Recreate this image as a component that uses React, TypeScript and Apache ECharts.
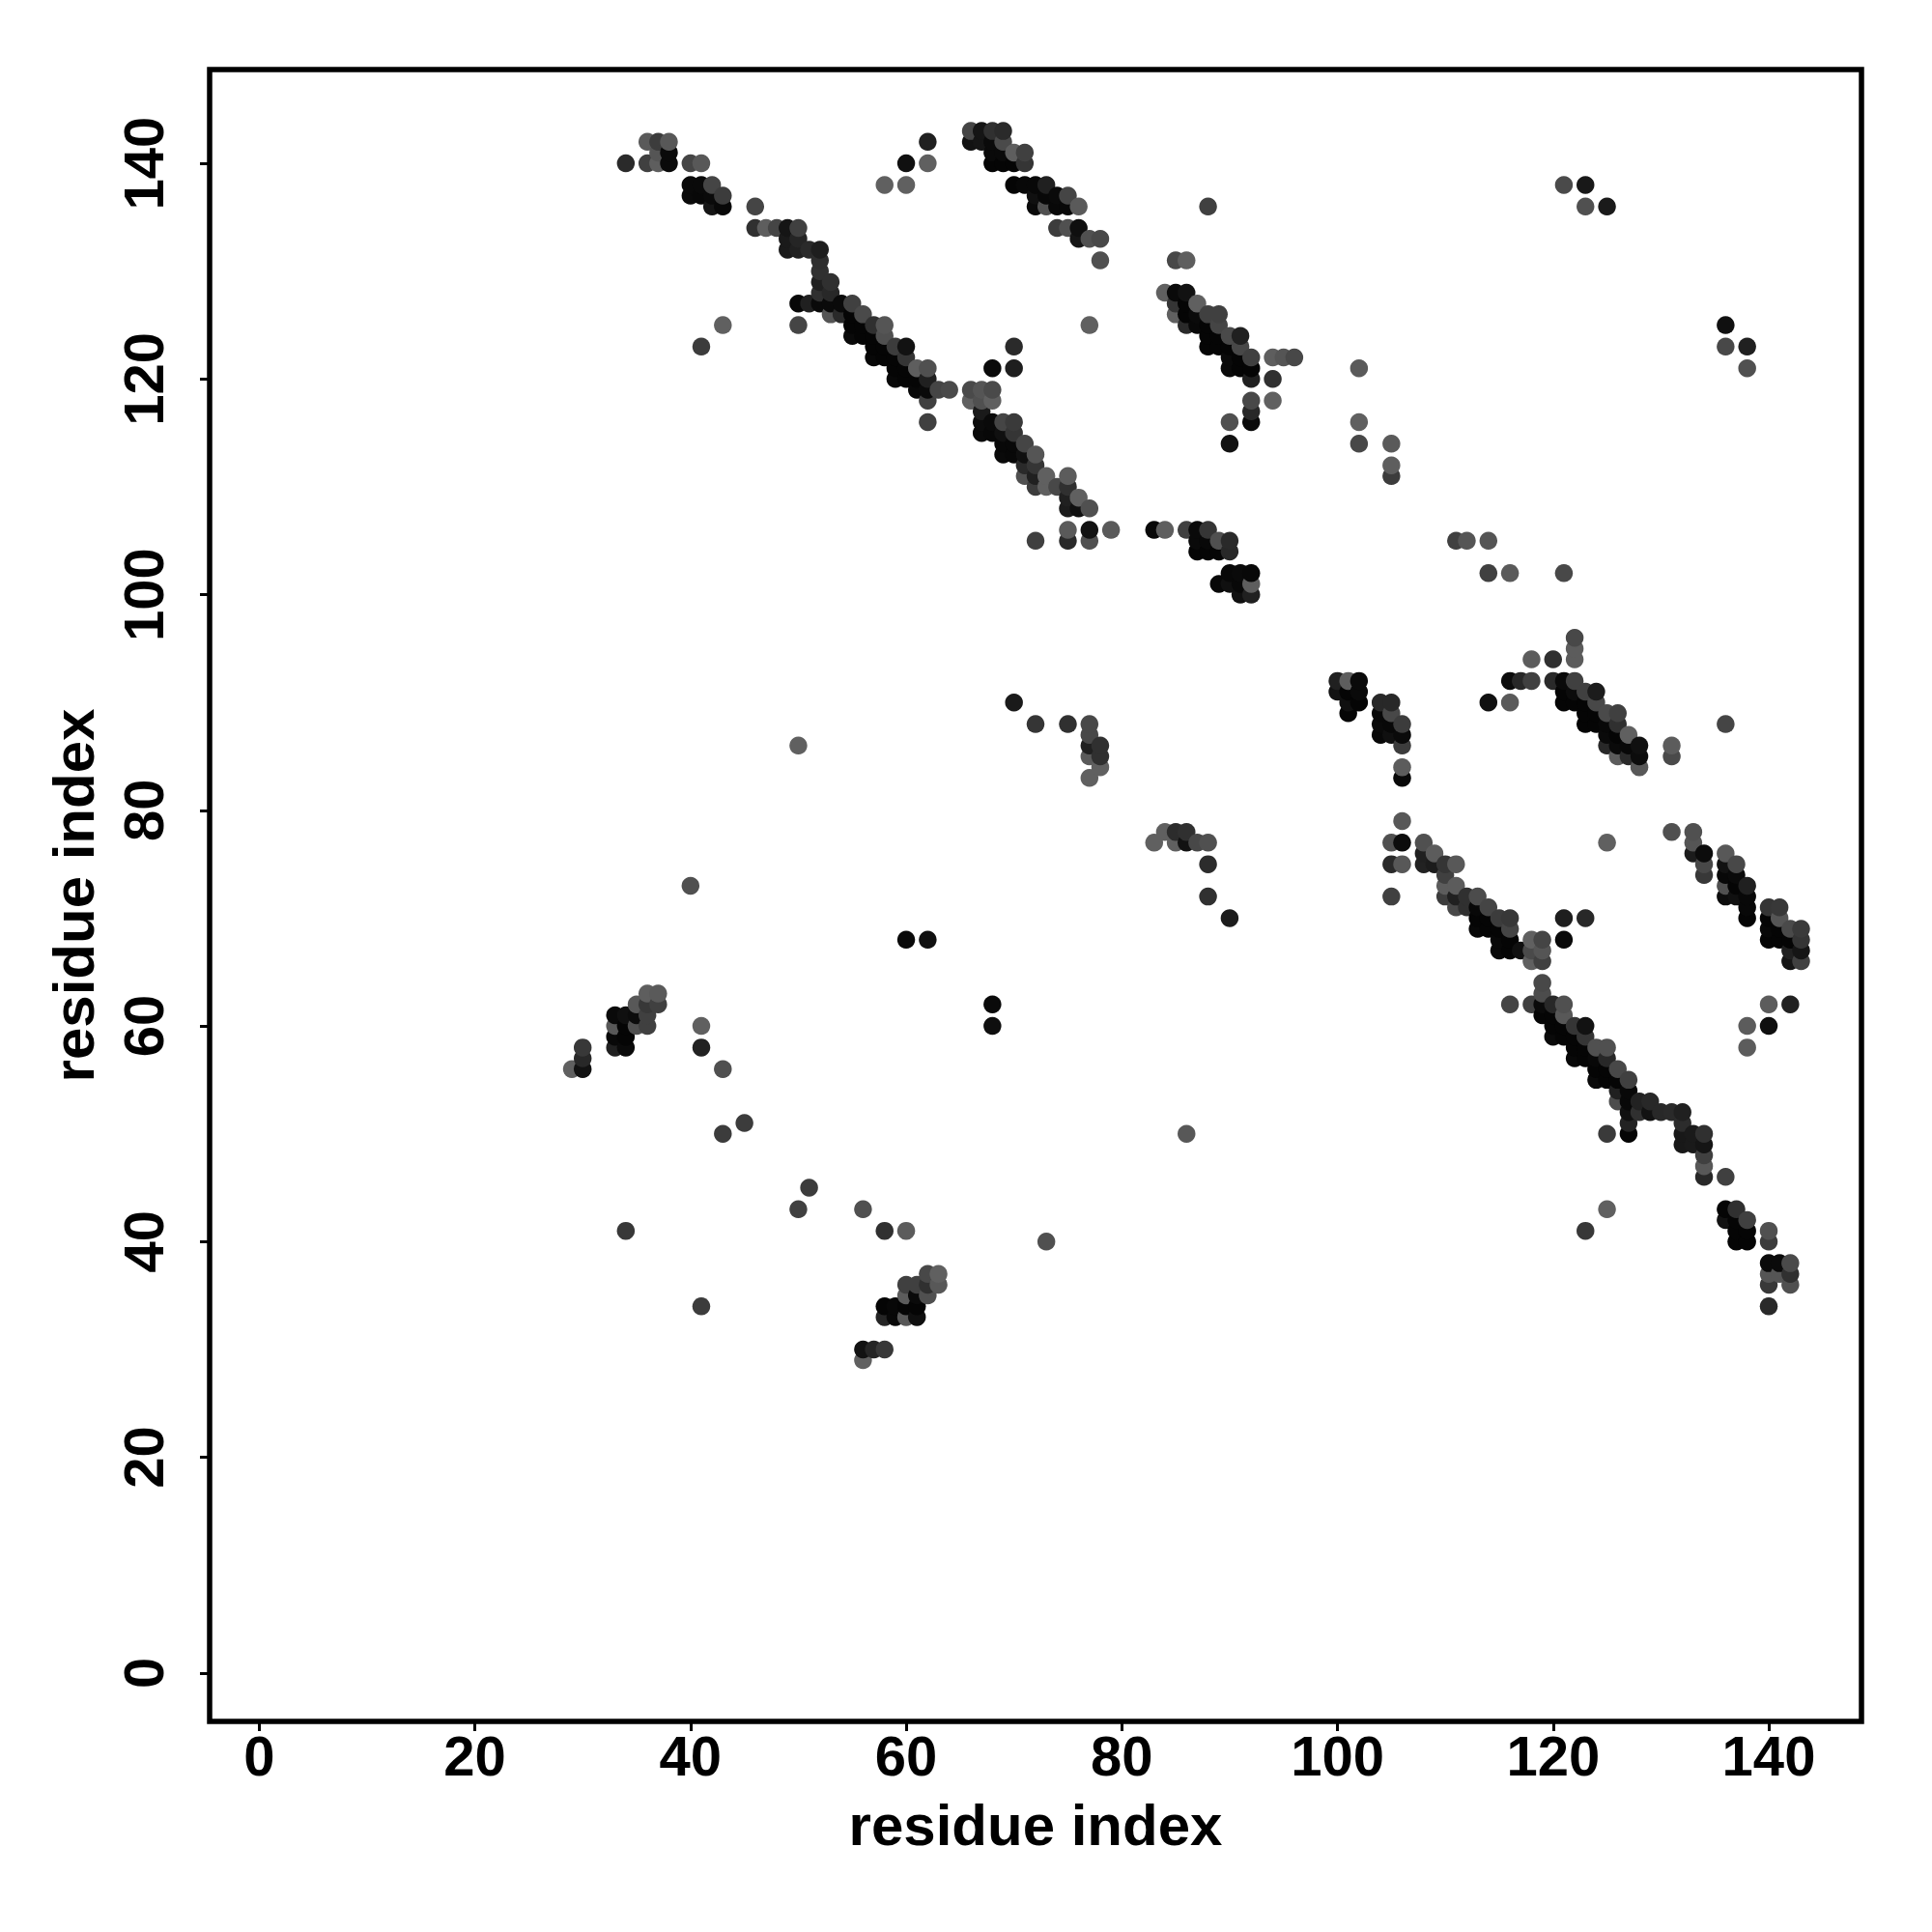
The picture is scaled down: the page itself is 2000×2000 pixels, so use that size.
import React, { useEffect, useRef } from "react";
import * as echarts from "echarts";

type C = [number, number, number];

const tickValues = [0, 20, 40, 60, 80, 100, 120, 140];
const axisTitle = "residue index";

const helixTopLeft: C[] = [
  [36,142,0x5a],[37,142,0x3c],[38,142,0x58],[37,141,0x55],[38,141,0x0a],[34,140,0x2a],[36,140,0x40],[37,140,0x5e],[38,140,0x0a],[40,140,0x45],[41,140,0x58],
  [40,138,0x0a],[41,138,0x0a],[42,138,0x45],[40,137,0x0a],[41,137,0x08],[42,137,0x0a],[43,137,0x3c],[42,136,0x15],[43,136,0x08],[46,136,0x45],
];
const strandMain1: C[] = [
  [46,134,0x30],[47,134,0x5e],[48,134,0x45],[49,134,0x15],[50,134,0x40],[49,133,0x1a],[50,133,0x25],[49,132,0x1a],[50,132,0x20],[51,132,0x2a],[52,132,0x1e],
  [52,131,0x2e],[52,130,0x30],[52,129,0x20],[53,129,0x30],[52,128,0x30],[53,128,0x28],
  [50,127,0x08],[51,127,0x20],[52,127,0x0a],[53,127,0x0a],[54,127,0x0a],[55,127,0x40],[53,126,0x55],[54,126,0x2a],[55,126,0x05],[56,126,0x4a],
  [43,125,0x60],[50,125,0x45],[55,125,0x05],[56,125,0x05],[57,125,0x30],[58,125,0x55],[55,124,0x0a],[56,124,0x05],[57,124,0x05],[58,124,0x50],
  [41,123,0x3c],[57,123,0x05],[58,123,0x05],[59,123,0x3c],[60,123,0x12],[70,123,0x2a],[57,122,0x08],[58,122,0x05],[59,122,0x05],[60,122,0x35],
  [59,121,0x05],[60,121,0x05],[61,121,0x5e],[62,121,0x50],[68,121,0x0a],[70,121,0x1e],[59,120,0x08],[60,120,0x05],[61,120,0x05],[62,120,0x20],
  [61,119,0x08],[62,119,0x0a],[63,119,0x45],[64,119,0x4a],[62,118,0x40],[62,116,0x40],
];
const strandUpper: C[] = [
  [66,143,0x45],[67,143,0x15],[68,143,0x30],[69,143,0x2a],[66,142,0x12],[67,142,0x15],[68,142,0x0a],[69,142,0x4a],[68,141,0x0a],[69,141,0x0a],[70,141,0x5e],[71,141,0x40],
  [68,140,0x05],[69,140,0x05],[70,140,0x05],[71,140,0x35],[70,138,0x05],[71,138,0x08],[72,138,0x08],[73,138,0x20],[72,137,0x10],[73,137,0x08],[74,137,0x0a],[75,137,0x45],
  [72,136,0x0a],[73,136,0x50],[74,136,0x08],[75,136,0x08],[76,136,0x5a],[74,134,0x3c],[75,134,0x50],[76,134,0x0f],[76,133,0x15],[77,133,0x50],[78,133,0x48],[78,131,0x50],
];
const pairsUpperIsolated: C[] = [
  [58,138,0x60],[60,138,0x60],[60,140,0x10],[62,140,0x60],[62,142,0x20],[88,136,0x40],[77,125,0x60],
  [121,138,0x4a],[123,138,0x18],[123,136,0x50],[125,136,0x1a],[136,125,0x10],[136,123,0x48],[138,123,0x20],[138,121,0x50],
  [102,121,0x5a],[102,116,0x60],[102,114,0x48],[105,114,0x5a],[105,112,0x5e],[105,111,0x3c],
  [111,105,0x40],[112,105,0x55],[114,105,0x55],[114,102,0x40],[116,102,0x5a],[121,102,0x48],
];
const strandMid: C[] = [
  [85,131,0x48],[86,131,0x5e],[84,128,0x60],[85,128,0x0a],[86,128,0x12],[85,127,0x35],[86,127,0x05],[87,127,0x60],[85,126,0x60],[86,126,0x05],[87,126,0x0a],[88,126,0x40],[89,126,0x40],
  [86,125,0x2a],[87,125,0x08],[88,125,0x05],[89,125,0x45],[88,124,0x05],[89,124,0x05],[90,124,0x4a],[91,124,0x20],[88,123,0x05],[89,123,0x05],[90,123,0x05],[91,123,0x48],
  [90,122,0x0a],[91,122,0x05],[92,122,0x40],[94,122,0x5e],[95,122,0x55],[96,122,0x48],[90,121,0x0a],[91,121,0x05],[92,121,0x05],[92,120,0x20],[94,120,0x30],
  [92,118,0x48],[94,118,0x60],[92,117,0x28],[92,116,0x0a],[90,116,0x50],[90,114,0x12],
];
const strandCentre: C[] = [
  [66,119,0x4a],[67,119,0x55],[68,119,0x4a],[66,118,0x60],[67,118,0x50],[68,118,0x60],[67,117,0x1a],[67,116,0x0c],[68,116,0x0a],[69,116,0x45],[70,116,0x3a],
  [67,115,0x0a],[68,115,0x08],[69,115,0x10],[70,115,0x35],[69,114,0x08],[70,114,0x08],[71,114,0x45],[69,113,0x0a],[70,113,0x08],[71,113,0x10],[72,113,0x55],
  [71,112,0x2a],[72,112,0x35],[71,111,0x50],[72,111,0x20],[73,111,0x60],[75,111,0x5c],[72,110,0x3c],[73,110,0x60],[74,110,0x48],[75,110,0x30],
  [75,109,0x20],[76,109,0x60],[75,108,0x1c],[76,108,0x10],[77,108,0x50],[75,106,0x5a],[77,106,0x12],[79,106,0x5a],[72,105,0x40],[75,105,0x2a],[77,105,0x50],
];
const block105: C[] = [
  [83,106,0x08],[84,106,0x5e],[86,106,0x40],[87,106,0x0a],[88,106,0x35],[87,105,0x0a],[88,105,0x08],[89,105,0x50],[90,105,0x2a],[87,104,0x05],[88,104,0x05],[89,104,0x05],[90,104,0x28],
  [90,102,0x08],[91,102,0x0a],[92,102,0x08],[89,101,0x08],[90,101,0x10],[91,101,0x08],[92,101,0x5e],[91,100,0x10],[92,100,0x20],
];
const block90: C[] = [
  [70,90,0x1a],[72,88,0x35],[75,88,0x30],[77,88,0x48],[77,87,0x48],[77,86,0x20],[78,86,0x30],[77,85,0x5a],[78,85,0x30],[78,84,0x60],[77,83,0x60],[50,86,0x60],
  [100,92,0x20],[101,92,0x5e],[102,92,0x0a],[100,91,0x12],[101,91,0x05],[102,91,0x0a],[101,90,0x10],[102,90,0x05],[104,90,0x28],[105,90,0x28],[101,89,0x05],[104,89,0x08],[105,89,0x48],
  [104,88,0x0a],[105,88,0x08],[106,88,0x3c],[104,87,0x08],[105,87,0x10],[106,87,0x0a],[106,86,0x3c],[106,84,0x5c],[106,83,0x08],
];
const strandRightUpper: C[] = [
  [122,96,0x48],[122,95,0x5c],[118,94,0x5c],[120,94,0x30],[122,94,0x5c],[116,92,0x0c],[117,92,0x28],[118,92,0x40],[120,92,0x2a],[121,92,0x0a],[122,92,0x40],
  [121,91,0x05],[122,91,0x0c],[123,91,0x40],[124,91,0x1c],[114,90,0x10],[116,90,0x5a],[121,90,0x05],[122,90,0x05],[123,90,0x05],[124,90,0x48],[123,89,0x05],[124,89,0x05],[125,89,0x4a],[126,89,0x40],
  [123,88,0x05],[124,88,0x05],[125,88,0x08],[126,88,0x30],[136,88,0x45],[125,87,0x0a],[126,87,0x05],[127,87,0x60],[125,86,0x28],[126,86,0x0a],[127,86,0x08],[128,86,0x10],[131,86,0x5c],
  [126,85,0x5c],[127,85,0x2a],[128,85,0x0c],[131,85,0x4a],[128,84,0x58],
];
const block77: C[] = [
  [84,78,0x60],[85,78,0x2c],[86,78,0x30],[83,77,0x60],[85,77,0x60],[86,77,0x12],[87,77,0x48],[88,77,0x50],[88,75,0x2c],[88,72,0x30],[90,70,0x1c],[40,73,0x50],[60,68,0x0a],[62,68,0x10],
  [106,79,0x58],[105,77,0x50],[106,77,0x0c],[125,77,0x60],[105,75,0x2a],[106,75,0x58],[105,72,0x40],
];
const strandLowerA: C[] = [
  [108,77,0x50],[108,76,0x20],[109,76,0x5c],[108,75,0x22],[109,75,0x1c],[110,75,0x35],[111,75,0x58],[110,74,0x40],[110,73,0x5c],[111,73,0x5c],
  [110,72,0x3c],[111,72,0x20],[112,72,0x30],[113,72,0x4c],[111,71,0x48],[112,71,0x30],[113,71,0x08],[114,71,0x45],[113,70,0x05],[114,70,0x05],[115,70,0x3c],[116,70,0x38],[121,70,0x1e],[123,70,0x28],
  [113,69,0x08],[114,69,0x05],[115,69,0x05],[116,69,0x45],[115,68,0x08],[116,68,0x05],[118,68,0x60],[119,68,0x45],[121,68,0x0a],[115,67,0x08],[116,67,0x05],[117,67,0x10],[118,67,0x4a],[119,67,0x55],[118,66,0x60],[119,66,0x40],
];
const strandFarRight: C[] = [
  [131,78,0x50],[133,78,0x50],[133,77,0x55],[133,76,0x1c],[134,76,0x0c],[136,76,0x58],[134,75,0x48],[136,75,0x12],[137,75,0x48],[134,74,0x38],[136,74,0x08],[137,74,0x0a],
  [136,73,0x50],[137,73,0x05],[138,73,0x20],[136,72,0x0c],[137,72,0x10],[138,72,0x08],[138,71,0x08],[140,71,0x35],[141,71,0x38],[138,70,0x05],[140,70,0x05],[141,70,0x55],
  [140,69,0x08],[141,69,0x05],[142,69,0x4a],[143,69,0x3a],[140,68,0x05],[141,68,0x05],[142,68,0x05],[143,68,0x35],[142,67,0x20],[143,67,0x15],[142,66,0x15],[143,66,0x40],
];
const strandLowerB: C[] = [
  [119,64,0x48],[119,63,0x4c],[116,62,0x45],[118,62,0x40],[119,62,0x0a],[120,62,0x28],[121,62,0x50],[140,62,0x5c],[142,62,0x22],[119,61,0x05],[120,61,0x05],[121,61,0x58],
  [120,60,0x05],[121,60,0x05],[122,60,0x35],[123,60,0x12],[138,60,0x5c],[140,60,0x0f],[120,59,0x0a],[121,59,0x05],[122,59,0x05],[123,59,0x35],
  [122,58,0x05],[123,58,0x05],[124,58,0x50],[125,58,0x50],[138,58,0x5c],[122,57,0x08],[123,57,0x05],[124,57,0x08],[125,57,0x28],[124,56,0x05],[125,56,0x05],[126,56,0x48],
  [124,55,0x0a],[125,55,0x05],[126,55,0x05],[127,55,0x40],[126,54,0x20],[127,54,0x08],[126,53,0x4c],[127,53,0x08],[128,53,0x22],[129,53,0x28],
  [127,52,0x10],[128,52,0x30],[129,52,0x12],[130,52,0x28],[131,52,0x2a],[132,52,0x20],[127,51,0x22],[132,51,0x2c],[86,50,0x58],[125,50,0x3a],[127,50,0x05],[132,50,0x18],[133,50,0x1a],[134,50,0x30],
  [132,49,0x18],[133,49,0x1a],[134,49,0x15],[134,48,0x40],[134,47,0x58],[134,46,0x28],[136,46,0x40],
];
const tailLowerRight: C[] = [
  [125,43,0x60],[136,43,0x05],[137,43,0x30],[136,42,0x12],[137,42,0x05],[138,42,0x40],[123,41,0x38],[137,41,0x05],[138,41,0x05],[140,41,0x50],[137,40,0x05],[138,40,0x05],[140,40,0x3c],
  [140,38,0x0a],[141,38,0x0a],[142,38,0x4a],[140,37,0x55],[141,37,0x55],[142,37,0x30],[140,36,0x38],[142,36,0x50],[140,34,0x2a],
];
const clusterLeft: C[] = [
  [36,63,0x5e],[37,63,0x5a],[35,62,0x58],[36,62,0x38],[37,62,0x40],[33,61,0x0a],[34,61,0x10],[35,61,0x0c],[36,61,0x40],[33,60,0x58],[34,60,0x05],[35,60,0x50],[36,60,0x40],[41,60,0x60],[68,62,0x0a],[68,60,0x0f],
  [33,59,0x08],[34,59,0x05],[30,58,0x38],[33,58,0x20],[34,58,0x0a],[41,58,0x22],[30,57,0x28],[29,56,0x60],[30,56,0x12],[43,56,0x50],[45,51,0x3c],[43,50,0x3c],
];
const clusterBottom: C[] = [
  [51,45,0x3c],[50,43,0x40],[56,43,0x50],[34,41,0x38],[58,41,0x30],[60,41,0x5c],[73,40,0x50],[41,34,0x3c],
  [62,37,0x48],[63,37,0x60],[60,36,0x40],[61,36,0x40],[62,36,0x30],[63,36,0x58],[60,35,0x5c],[61,35,0x0a],[62,35,0x50],[58,34,0x05],[59,34,0x08],[60,34,0x05],[61,34,0x05],
  [58,33,0x25],[59,33,0x08],[60,33,0x58],[61,33,0x0f],[56,30,0x12],[57,30,0x25],[58,30,0x38],[56,29,0x60],
];

const contacts: C[] = [
  ...helixTopLeft, ...strandMain1, ...strandUpper, ...pairsUpperIsolated, ...strandMid, ...strandCentre, ...block105, ...block90,
  ...strandRightUpper, ...block77, ...strandLowerA, ...strandFarRight, ...strandLowerB, ...tailLowerRight, ...clusterLeft, ...clusterBottom,
].sort((a, b) => a[0] - b[0] || a[1] - b[1]);

const FONT = '"Liberation Sans", Arial, sans-serif';

const labelStyle = { show: true, customValues: tickValues, fontFamily: FONT, fontWeight: "bold", fontSize: 58, color: "#000", hideOverlap: false, showMinLabel: true, showMaxLabel: true };

function axis(extra: object) {
  return {
    type: "value",
    name: axisTitle,
    nameLocation: "middle",
    nameTextStyle: { fontFamily: FONT, fontWeight: "bold", fontSize: 60, color: "#000" },
    splitLine: { show: false },
    axisLine: { show: false, onZero: false },
    axisTick: { show: true, length: 10, customValues: tickValues, lineStyle: { color: "#000", width: 3 } },
    ...extra,
  };
}

export default function App() {
  const ref = useRef<HTMLDivElement>(null);
  useEffect(() => {
    const chart = echarts.init(ref.current!, undefined, { renderer: "svg" });
    chart.setOption({
      animation: false,
      backgroundColor: "#fff",
      grid: { left: 217, right: 73, top: 72, bottom: 218, show: true, borderColor: "#000", borderWidth: 5.5, backgroundColor: "transparent" },
      xAxis: axis({ min: -4.6, max: 148.6, nameGap: 77, axisLabel: { ...labelStyle, margin: 6 } }),
      yAxis: axis({ min: -4.5, max: 148.7, nameGap: 111, nameRotate: 90, axisLabel: { ...labelStyle, rotate: 90, margin: 40 } }),
      series: [
        {
          type: "scatter",
          symbol: "circle",
          symbolSize: 18.5,
          data: contacts,
          encode: { x: 0, y: 1 },
          itemStyle: {
            opacity: 1,
            color: (p: any) => {
              const g = p.value[2];
              return `rgb(${g},${g},${g})`;
            },
          },
        },
      ],
    });
    return () => chart.dispose();
  }, []);
  return <div ref={ref} style={{ position: "absolute", left: 0, top: 0, width: 2000, height: 2000 }} />;
}
